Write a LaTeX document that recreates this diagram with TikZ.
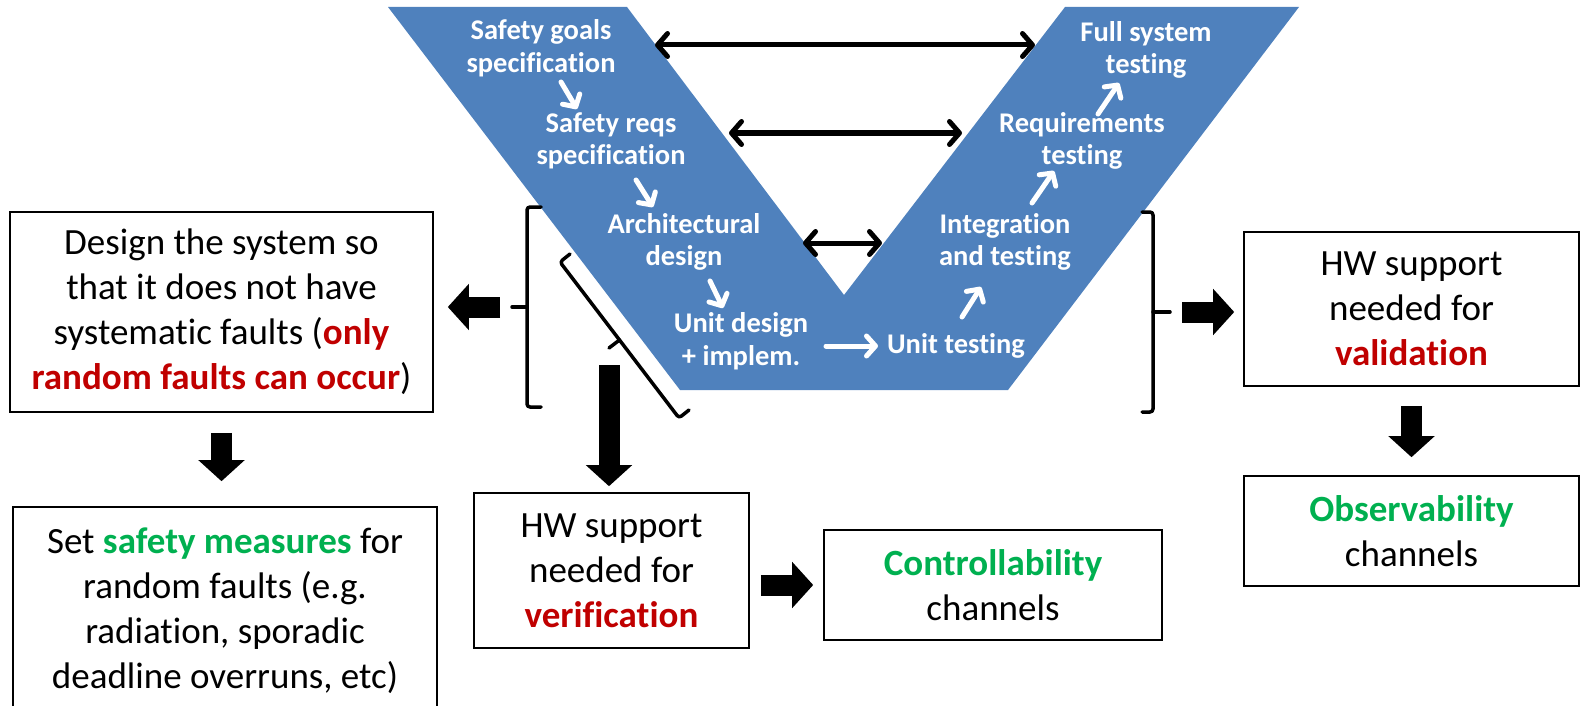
\documentclass[tikz,border=0pt]{standalone}
\usepackage{fontspec}
\setmainfont{Carlito}[Ligatures=NoCommon]
\usetikzlibrary{arrows.meta}
\definecolor{vblue}{HTML}{4F81BD}
\definecolor{hired}{HTML}{C00000}
\definecolor{higreen}{HTML}{00B050}
\newcommand\bxfont{\fontsize{37}{45}\selectfont}
\newcommand\vtfont{\fontsize{28.5}{32.5}\selectfont\bfseries}
\newcommand\red[1]{\textcolor{hired}{\textbf{#1}}}
\newcommand\grn[1]{\textcolor{higreen}{\textbf{#1}}}
\begin{document}
\begin{tikzpicture}[x=1pt,y=-1pt,
  box/.style={draw, line width=1.6pt, align=center, inner sep=0pt, font=\bxfont},
  vtext/.style={text=white, align=center, font=\vtfont, inner sep=0pt},
  warrow/.style={white, line width=5pt, line cap=round,
    -{Straight Barb[length=9pt,width=20pt,round]}},
  link/.style={line width=5pt,
    {Straight Barb[length=10pt,width=23pt,round]}-{Straight Barb[length=10pt,width=23pt,round]}},
  brace/.style={line width=3.5pt, line cap=round, line join=round, rounded corners=3pt},
  block/.style={line width=21pt, -{Triangle[length=21pt,width=45pt]}}
]
\path[use as bounding box] (0,0) rectangle (1581,706);
\clip (0,0) rectangle (1581,706);

% the V model
\fill[vblue] (388,7) -- (627,7) -- (844,295) -- (1065,7) -- (1299,7)
  -- (1008,390) -- (680,390) -- cycle;

\node[vtext] (goals) at (541,48)  {Safety goals\\specification};
\node[vtext] (reqs)  at (611,141) {Safety reqs\\specification};
\node[vtext] (arch)  at (684,242) {Architectural\\design};
\node[vtext] (unitd) at (741,341) {Unit design\\+ implem.};
\node[vtext] (unitt) at (956,346) {Unit testing};
\node[vtext] (integ) at (1005,242) {Integration\\and testing};
\node[vtext] (reqt)  at (1082,141) {Requirements\\testing};
\node[vtext] (full)  at (1146,50)  {Full system\\testing};

% flow inside the V
\coordinate (a1s) at (561,82);  \coordinate (a1e) at (577,109);
\coordinate (a2s) at (636,180); \coordinate (a2e) at (653,207);
\coordinate (a3s) at (710,281); \coordinate (a3e) at (723,308);
\coordinate (a4s) at (826,346); \coordinate (a4e) at (878,346);
\coordinate (a5s) at (962,317); \coordinate (a5e) at (981,287);
\coordinate (a6s) at (1032,203);\coordinate (a6e) at (1054,171);
\coordinate (a7s) at (1098,114);\coordinate (a7e) at (1119,83);
\foreach \i in {1,...,7} \draw[warrow] (a\i s) -- (a\i e);

% links between the two arms
\coordinate (l1a) at (655,45);  \coordinate (l1b) at (1035,45);
\coordinate (l2a) at (729,133); \coordinate (l2b) at (962,133);
\coordinate (l3a) at (803,243); \coordinate (l3b) at (882,243);
\draw[link] (l1a) -- (l1b);
\draw[link] (l2a) -- (l2b);
\draw[link] (l3a) -- (l3b);

% braces
\draw[brace] (541,207) -- (527,207) -- (527,407) -- (541,407);
\draw[brace] (527,307) -- (512,307);
\coordinate (lbtick) at (512,307);

\draw[brace] (1142,212) -- (1153,212) -- (1153,412) -- (1142,412);
\draw[brace] (1153,312) -- (1170,312);
\coordinate (rbtick) at (1170,312);

\draw[brace] (570,254) -- (560,262) -- (679,418) -- (689,410);
\draw[brace] (619.5,340) -- (609,348);
\coordinate (dbtick) at (609,348);

% boxes
\node[box, minimum width=423pt, minimum height=200pt] (design) at (221.5,312)
  {Design the system so\\that it does not have\\systematic faults (\red{only}\\\red{random faults can occur})};
\node[box, minimum width=424pt, minimum height=216pt] (safety) at (225,615)
  {};
\node[font=\bxfont, align=center, inner sep=0pt] (safetytext) at (225,611)
  {Set \grn{safety measures} for\\random faults (e.g.\\radiation, sporadic\\deadline overruns, etc)};
\node[box, minimum width=275pt, minimum height=155pt] (verif) at (611.5,570.5)
  {HW support\\needed for\\\red{verification}};
\node[box, minimum width=338pt, minimum height=110pt] (ctrl) at (993,585)
  {\grn{Controllability}\\channels};
\node[box, minimum width=335pt, minimum height=154pt] (hwv) at (1411.5,309)
  {HW support\\needed for\\\red{validation}};
\node[box, minimum width=335pt, minimum height=110pt] (obs) at (1411.5,531)
  {\grn{Observability}\\channels};

% block arrows
\draw[block] ([xshift=-12pt]lbtick) -- ([xshift=14pt]design.east |- lbtick);
\draw[block] ([xshift=12pt]rbtick) -- ([xshift=-9pt]hwv.west |- rbtick);
\draw[block] ([yshift=-17pt]dbtick) -- ([yshift=6pt]verif.north -| dbtick);
\draw[block] ([xshift=11pt]verif.east |- ctrl.west) -- ([xshift=-10pt]ctrl.west);
\draw[block] ([yshift=-20pt]design.south) -- ([yshift=25pt]safety.north -| design.south);
\draw[block] ([yshift=-19pt]hwv.south) -- ([yshift=18pt]obs.north);
\end{tikzpicture}
\end{document}
